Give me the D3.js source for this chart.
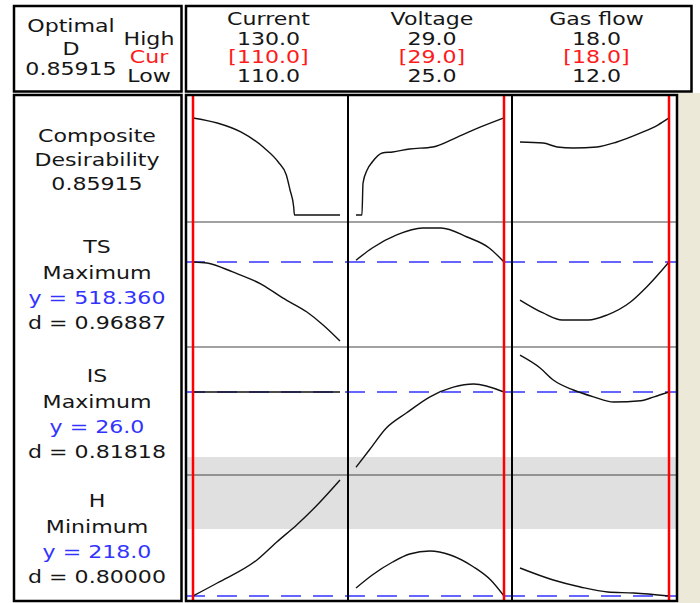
<!DOCTYPE html>
<html>
<head>
<meta charset="utf-8">
<script src="https://cdn.jsdelivr.net/npm/d3@7/dist/d3.min.js"></script>
<style>
  body { margin: 0; background: #fff; }
  svg text { font-family: "DejaVu Sans", Verdana, sans-serif; font-size: 17px; }
</style>
</head>
<body>
<div id="chart"></div>
<script>
// Factor settings
const factors = ["Current", "Voltage", "Gas flow"];
const highs = [130, 29, 18];
const lows = [110, 25, 12];
const curs = [110, 29, 18];

// Responses: label lines, goal, predicted y, desirability
const responses = ["TS", "IS", "H"];
const goals = ["Maximum", "Maximum", "Minimum"];
const predY = ["518.360", "26.0", "218.0"];
const dVals = ["0.96887", "0.81818", "0.80000"];
const targets = [518.36, 26.0, 218.0];
const compositeD = "0.85915";

// Row value domains (composite d, TS, IS, H)
const yDomains = [[-0.062, 1.062], [461.7, 545], [15.625, 31.625], [216, 266.4]];

// Composite desirability vs each factor
const compCurrent = [[110,0.859],[113.3,0.814],[116.5,0.735],[119.7,0.593],[121.6,0.469],[122.7,0.354],[123.2,0.221],[123.7,0.071],[123.8,0],[130,0]];
const compVoltage = [[25,0],[25.16,0],[25.19,0.283],[25.3,0.398],[25.44,0.469],[25.71,0.549],[25.99,0.558],[26.45,0.584],[27.08,0.602],[27.74,0.69],[28.37,0.779],[29,0.859]];
const compGas = [[12,0.646],[12.93,0.637],[13.5,0.602],[14.15,0.593],[15.1,0.602],[15.9,0.646],[16.86,0.726],[17.55,0.796],[18,0.859]];

// TS
const tsCurrent = [[110,518.36],[111.9,517.7],[115.4,511.7],[119.5,503.0],[122.2,494.4],[125.5,485.0],[127.7,476.4],[130,465.7]];
const tsVoltage = [[25,519.5],[25.44,527.7],[26.1,536.4],[26.8,541.0],[27.3,541.0],[28.0,535.0],[28.6,527.7],[29,518.36]];
const tsGas = [[12,493.0],[12.93,484.4],[13.7,479.7],[14.75,479.7],[15.5,483.0],[16.45,491.7],[17.1,501.7],[18,518.36]];

// IS
const isCurrent = [[110,26.0],[120,26.0],[130,26.0]];
const isVoltage = [[25,16.6],[25.36,18.75],[25.82,21.5],[26.37,23.4],[27.0,25.4],[27.63,26.6],[28.18,27.0],[29,26.0]];
const isGas = [[12,30.6],[12.81,29.0],[13.34,27.5],[14.15,26.25],[14.96,25.4],[15.77,24.75],[16.86,24.9],[17.4,25.4],[18,26.0]];

// H
const hCurrent = [[110,218.0],[113.3,223.2],[118.7,232.4],[121.4,239.6],[124.1,246.4],[126.9,254.4],[130,264.4]];
const hVoltage = [[25,221.2],[25.44,226.4],[25.99,231.6],[26.45,234.8],[27.0,236.0],[27.55,234.4],[28.18,229.6],[28.64,224.4],[29,218.0]];
const hGas = [[12,229.2],[13.34,224.4],[14.43,221.6],[15.53,219.6],[16.58,219.2],[18,218.0]];

const curves = [
  [compCurrent, compVoltage, compGas],
  [tsCurrent, tsVoltage, tsGas],
  [isCurrent, isVoltage, isGas],
  [hCurrent, hVoltage, hGas]
];

// Layout
const W = 700, H = 603;
const colEdges = [185, 348, 512, 677];
const rowEdges = [95, 222, 347, 475, 601];
const pad = 8;
const textColor = "#161616";
const blue = "#3333ff";
const red = "#ff1a1a";

const svg = d3.select("#chart").append("svg")
  .attr("width", W)
  .attr("height", H);

// background, beige strip at right
svg.append("rect").attr("width", W).attr("height", H).attr("fill", "#fff");
svg.append("rect").attr("x", 678).attr("y", 93).attr("width", 22).attr("height", 510).attr("fill", "#ece9d8");

function label(x, y, str, color) {
  svg.append("text")
    .attr("transform", `translate(${x},${y}) scale(1.3,1)`)
    .attr("text-anchor", "middle")
    .style("fill", color || textColor)
    .text(str);
}

// x scales per factor column
const xScales = factors.map((f, i) => d3.scaleLinear()
  .domain([lows[i], highs[i]])
  .range([colEdges[i] + pad, colEdges[i + 1] - pad]));

// y scales per row
const yScales = yDomains.map((dom, r) => d3.scaleLinear()
  .domain(dom)
  .range([rowEdges[r + 1], rowEdges[r]]));

// gray shaded band
svg.append("rect")
  .attr("x", colEdges[0]).attr("y", 457)
  .attr("width", colEdges[3] - colEdges[0]).attr("height", 72)
  .attr("fill", "#e0e0e0");

// horizontal row separators in the plot area
rowEdges.slice(1, 4).forEach(y => {
  svg.append("line")
    .attr("x1", colEdges[0]).attr("x2", colEdges[3])
    .attr("y1", y).attr("y2", y)
    .attr("stroke", "#444").attr("stroke-width", 1.2);
});

// blue dashed lines at predicted response
targets.forEach((t, i) => {
  const y = yScales[i + 1](t);
  svg.append("line")
    .attr("x1", colEdges[0]).attr("x2", colEdges[3])
    .attr("y1", y).attr("y2", y)
    .attr("stroke", blue).attr("stroke-width", 1.5)
    .attr("stroke-dasharray", "20,12");
});

// response curves
curves.forEach((row, r) => {
  row.forEach((pts, c) => {
    const line = d3.line()
      .x(d => xScales[c](d[0]))
      .y(d => yScales[r](d[1]))
      .curve(d3.curveMonotoneX);
    svg.append("path")
      .datum(pts)
      .attr("d", line)
      .attr("fill", "none")
      .attr("stroke", "#111")
      .attr("stroke-width", 1.4);
  });
});

// vertical column separators
[colEdges[1], colEdges[2]].forEach(x => {
  svg.append("line")
    .attr("x1", x).attr("x2", x)
    .attr("y1", rowEdges[0]).attr("y2", rowEdges[4])
    .attr("stroke", "#000").attr("stroke-width", 2);
});

// red lines at current settings
curs.forEach((v, i) => {
  const x = xScales[i](v);
  svg.append("line")
    .attr("x1", x).attr("x2", x)
    .attr("y1", rowEdges[0]).attr("y2", rowEdges[4])
    .attr("stroke", "#ff0000").attr("stroke-width", 2.5);
});

// boxes
function box(x1, y1, x2, y2) {
  svg.append("rect")
    .attr("x", x1).attr("y", y1)
    .attr("width", x2 - x1).attr("height", y2 - y1)
    .attr("fill", "none")
    .attr("stroke", "#000").attr("stroke-width", 2.5);
}
box(14, 6, 181.5, 91.5);
box(186, 6, 691.5, 91.5);
box(14, 95, 181.5, 601);
box(186, 95, 677, 601);

// header, left cell
label(71, 32, "Optimal");
label(71, 55, "D");
label(71, 75, compositeD);
label(149, 45, "High");
label(149, 63, "Cur", red);
label(149, 82, "Low");

// header, factor columns
factors.forEach((f, i) => {
  const cx = (colEdges[i] + colEdges[i + 1]) / 2 + 2;
  label(cx, 25, f);
  label(cx, 45, highs[i].toFixed(1));
  label(cx, 63, "[" + curs[i].toFixed(1) + "]", red);
  label(cx, 82, lows[i].toFixed(1));
});

// left labels
label(97, 142, "Composite");
label(97, 166, "Desirability");
label(97, 190, compositeD);

const labelTops = [253, 382, 507];
responses.forEach((name, i) => {
  const y0 = labelTops[i];
  label(97, y0, name);
  label(97, y0 + 26, goals[i]);
  label(97, y0 + 51, "y = " + predY[i], blue);
  label(97, y0 + 76, "d = " + dVals[i]);
});
</script>
</body>
</html>
